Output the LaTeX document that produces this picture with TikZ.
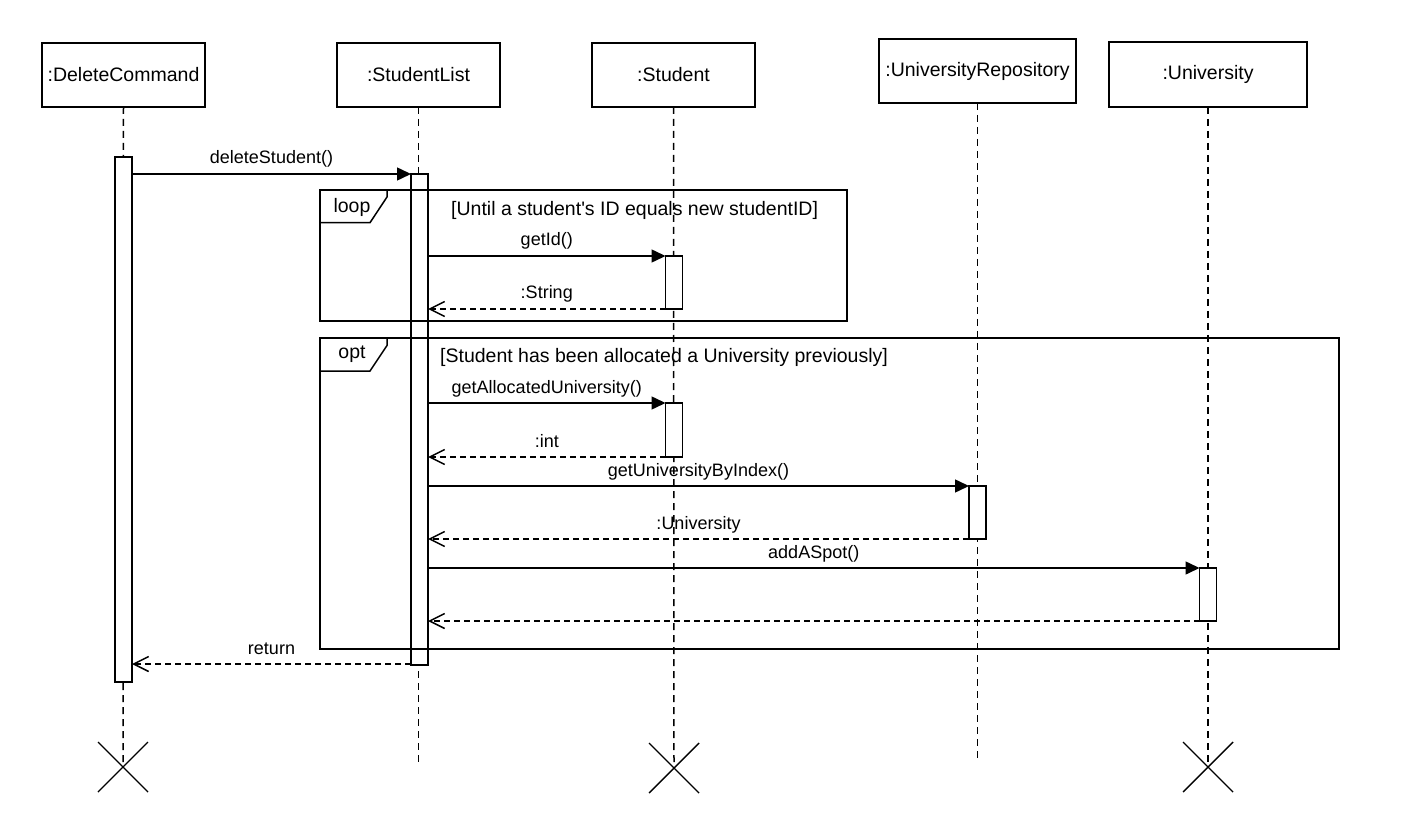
\documentclass[tikz,border=0pt]{standalone}
\usepackage{fontspec}
\setmainfont{Liberation Sans}
\usetikzlibrary{arrows.meta,shapes.misc,calc}
\begin{document}
\begin{tikzpicture}[x=1pt,y=-1pt,
  lw/.style={line width=1.5pt},
  head/.style={draw, lw, minimum width=163pt, minimum height=64pt, inner sep=0pt, outer sep=0pt, font=\fontsize{19.5}{23}\selectfont},
  act/.style={draw, fill=white, lw, minimum width=17pt, inner sep=0pt, outer sep=0pt},
  life/.style={lw, dash pattern=on 7pt off 5pt},
  msg/.style={lw, -{Triangle[length=14pt,width=13pt]}},
  ret/.style={lw, dash pattern=on 6pt off 4pt, -{Straight Barb[length=15pt,width=15pt,line width=1.5pt]}},
  lbl/.style={anchor=base, yshift=10pt, inner sep=0pt, font=\fontsize{18}{21}\selectfont},
  fr/.style={draw, lw, inner sep=0pt, outer sep=0pt},
  frtxt/.style={font=\fontsize{19.5}{23}\selectfont, inner sep=0pt},
  xmark/.style={cross out, draw, line width=1.4pt, minimum size=50pt, inner sep=0pt, outer sep=0pt}
]
\useasboundingbox (0,0) rectangle (1403,834);

% headers
\node[head] (h1) at (123.5,75) {:DeleteCommand};
\node[head] (h2) at (418.5,75) {:StudentList};
\node[head] (h3) at (673.5,75) {:Student};
\node[head, minimum width=197pt] (h4) at (977.5,71) {:UniversityRepository};
\node[head, minimum width=198pt, minimum height=65pt] (h5) at (1208,74.5) {:University};

% lifeline ends
\node[xmark] (x1) at (123,767) {};
\coordinate (e2) at (419,763);
\node[xmark] (x3) at (674,768) {};
\coordinate (e4) at (977.5,760);
\node[xmark] (x5) at (1208,767) {};

% lifelines
\draw[life] (h1.south) -- (x1.center);
\draw[life] (h2.south) -- (h2.south |- e2);
\draw[life] (h3.south) -- (x3.center);
\draw[life] (h4.south) -- (e4);
\draw[life] (h5.south) -- (x5.center);

% activations
\node[act, minimum height=525pt] (a1) at (123.5,419.5) {};
\node[act, minimum height=491pt] (a2) at (419.5,419.5) {};
\node[act, minimum height=53pt] (a3) at (674,282.5) {};
\node[act, minimum height=54pt] (a4) at (674,430) {};
\node[act, minimum height=53pt] (a5) at (977.5,512.5) {};
\node[act, minimum height=53pt] (a6) at (1208,594.5) {};

% frames
\node[fr, minimum width=527pt, minimum height=131pt] (loop) at (583.5,255.5) {};
\draw[lw] ($(loop.north west)+(0,32.7)$) -- ++(50,0) -- ++(17,-25.7) -- ++(0,-7);
\node[frtxt] (looplbl) at (352,207) {loop};
\node[frtxt, anchor=west] (loopguard) at (451,210) {[Until a student\textquotesingle s ID equals new studentID]};

\node[fr, minimum width=1019pt, minimum height=311pt] (opt) at (829.5,493.5) {};
\draw[lw] ($(opt.north west)+(0,33)$) -- ++(50,0) -- ++(17,-25.5) -- ++(0,-7.5);
\node[frtxt] (optlbl) at (352,354) {opt};
\node[frtxt, anchor=west] (optguard) at (440,357) {[Student has been allocated a University previously]};

% messages
\coordinate (m1) at (0,174);
\coordinate (m2) at (0,256);
\coordinate (m3) at (0,309);
\coordinate (m4) at (0,403);
\coordinate (m5) at (0,457);
\coordinate (m6) at (0,486);
\coordinate (m7) at (0,539);
\coordinate (m8) at (0,568);
\coordinate (m9) at (0,621);
\coordinate (m10) at (0,664);

\draw[msg] (a1.east |- m1) -- node[lbl]{deleteStudent()} (a2.west |- m1);
\draw[msg] (a2.east |- m2) -- node[lbl]{getId()} (a3.west |- m2);
\draw[ret] (a3.west |- m3) -- node[lbl]{:String} (a2.east |- m3);
\draw[msg] (a2.east |- m4) -- node[lbl]{getAllocatedUniversity()} (a4.west |- m4);
\draw[ret] (a4.west |- m5) -- node[lbl]{:int} (a2.east |- m5);
\draw[msg] (a2.east |- m6) -- node[lbl]{getUniversityByIndex()} (a5.west |- m6);
\draw[ret] (a5.west |- m7) -- node[lbl]{:University} (a2.east |- m7);
\draw[msg] (a2.east |- m8) -- node[lbl]{addASpot()} (a6.west |- m8);
\draw[ret] (a6.west |- m9) -- (a2.east |- m9);
\draw[ret] (a2.west |- m10) -- node[lbl]{return} (a1.east |- m10);
\end{tikzpicture}
\end{document}
